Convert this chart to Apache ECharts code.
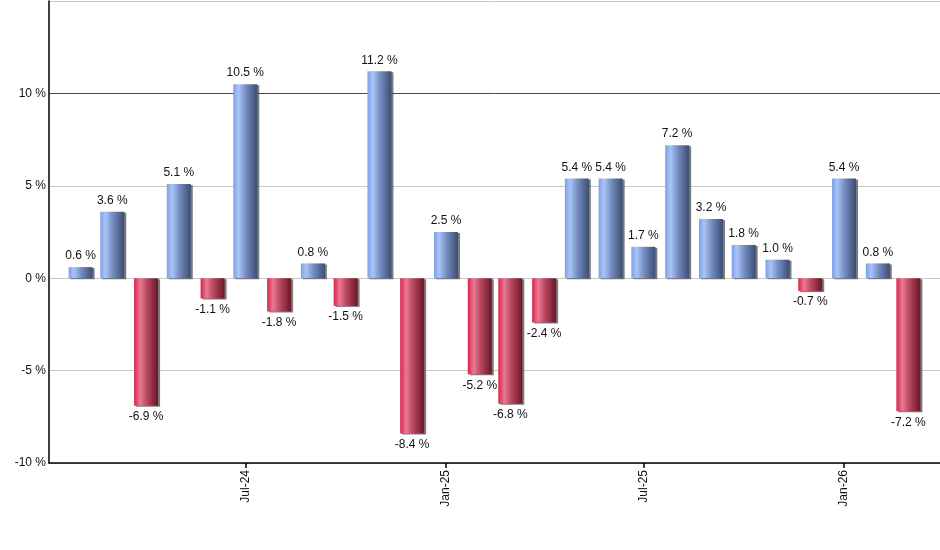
<!DOCTYPE html>
<html>
<head>
<meta charset="utf-8">
<script src="https://cdn.jsdelivr.net/npm/echarts@6/dist/echarts.min.js"></script>
<style>
  html, body { margin: 0; padding: 0; background: #fff; }
  #chart { width: 940px; height: 550px; }
</style>
</head>
<body>
<div id="chart"></div>
<script>
// monthly change, one bar per month
var months = ['2024-02', '2024-03', '2024-04', '2024-05', '2024-06', '2024-07', '2024-08', '2024-09', '2024-10',
    '2024-11', '2024-12', '2025-01', '2025-02', '2025-03', '2025-04', '2025-05', '2025-06', '2025-07', '2025-08',
    '2025-09', '2025-10', '2025-11', '2025-12', '2026-01', '2026-02', '2026-03'];
var values = [0.6, 3.6, -6.9, 5.1, -1.1, 10.5, -1.8, 0.8, -1.5, 11.2, -8.4, 2.5, -5.2, -6.8, -2.4, 5.4, 5.4,
    1.7, 7.2, 3.2, 1.8, 1.0, -0.7, 5.4, 0.8, -7.2];

// x axis labels shown every six months
var tickMonths = ['2024-07', '2025-01', '2025-07', '2026-01'];
var MONTH_NAMES = ['Jan', 'Feb', 'Mar', 'Apr', 'May', 'Jun', 'Jul', 'Aug', 'Sep', 'Oct', 'Nov', 'Dec'];

// y axis ticks
var yTicks = [-10, -5, 0, 5, 10, 15];

function toTime(s, day) {
    var p = s.split('-');
    return new Date(+p[0], +p[1] - 1, day || 1).getTime();
}

var blueFill = new echarts.graphic.LinearGradient(0, 0, 1, 0, [
    { offset: 0, color: '#7c9fe8' },
    { offset: 0.22, color: '#aac4f6' },
    { offset: 0.55, color: '#7189bd' },
    { offset: 1, color: '#3c4d72' }
]);
var redFill = new echarts.graphic.LinearGradient(0, 0, 1, 0, [
    { offset: 0, color: '#d8244e' },
    { offset: 0.25, color: '#ea7891' },
    { offset: 0.55, color: '#b5465e' },
    { offset: 1, color: '#6a1626' }
]);

var barData = months.map(function(m, i) {
    var v = values[i];
    return {
        value: [toTime(m), v],
        itemStyle: { color: v >= 0 ? blueFill : redFill },
        label: { position: v >= 0 ? 'top' : 'bottom' }
    };
});

var tickTimes = tickMonths.map(function(m) { return toTime(m); });

var chart = echarts.init(document.getElementById('chart'));
chart.setOption({
    animation: false,
    backgroundColor: '#fff',
    textStyle: { fontFamily: 'Arial, "Liberation Sans", sans-serif' },
    grid: { left: 49, right: 0, top: 1, bottom: 87 },
    xAxis: {
        type: 'value',
        min: toTime('2024-01', 3),
        max: toTime('2026-03', 30),
        axisLine: { show: true, onZero: false, lineStyle: { color: '#000', width: 1.5 } },
        axisTick: {
            show: true,
            length: 5,
            customValues: tickTimes,
            lineStyle: { color: '#000', width: 1.5 }
        },
        axisLabel: {
            rotate: 90,
            margin: 7,
            fontSize: 12,
            color: '#111',
            customValues: tickTimes,
            formatter: function(val) {
                var d = new Date(val);
                return MONTH_NAMES[d.getMonth()] + '-' + String(d.getFullYear()).slice(2);
            }
        },
        splitLine: { show: false }
    },
    yAxis: {
        type: 'value',
        min: yTicks[0],
        max: yTicks[yTicks.length - 1],
        interval: 5,
        axisLine: { show: true, onZero: false, lineStyle: { color: '#000', width: 1.5 } },
        axisTick: { show: false },
        axisLabel: {
            margin: 3,
            fontSize: 12,
            color: '#111',
            formatter: function(v) { return v === 15 ? '' : v + ' %'; }
        },
        splitLine: {
            show: true,
            lineStyle: {
                color: ['#c8c8c8', '#c8c8c8', '#c8c8c8', '#c8c8c8', '#1d6b1d', '#c8c8c8'],
                width: 1
            }
        }
    },
    series: [{
        type: 'bar',
        barWidth: 24,
        data: barData,
        itemStyle: {
            shadowColor: 'rgba(80,80,80,0.75)',
            shadowOffsetX: 2,
            shadowOffsetY: 1,
            shadowBlur: 0
        },
        label: {
            show: true,
            distance: 5,
            fontSize: 12,
            color: '#111',
            formatter: function(p) { return p.value[1].toFixed(1) + ' %'; }
        }
    }]
});
</script>
</body>
</html>
